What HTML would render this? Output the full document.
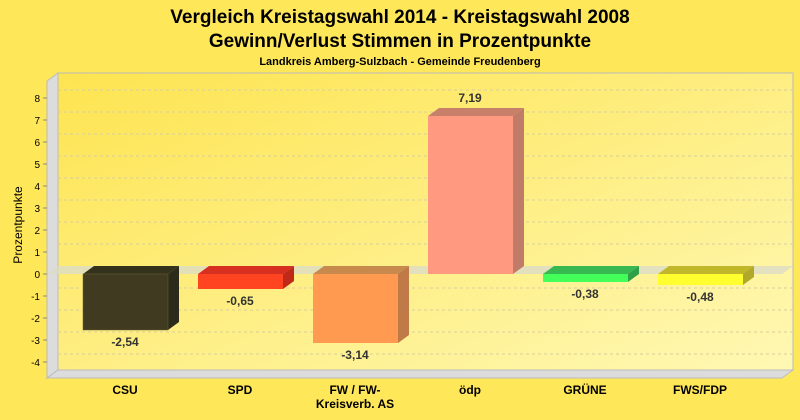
<!DOCTYPE html>
<html><head><meta charset="utf-8"><style>
html,body{margin:0;padding:0;background:#FFE75A;}
svg{display:block;font-family:"Liberation Sans",sans-serif;}
</style></head><body>
<svg width="800" height="420" viewBox="0 0 800 420">
<defs>
<linearGradient id="bg" x1="0" y1="0" x2="1" y2="1">
<stop offset="0" stop-color="#FDE450"/><stop offset="1" stop-color="#FFF8B4"/>
</linearGradient>
</defs>
<rect width="800" height="420" fill="#FFE75A"/>
<text x="400" y="23" font-size="19" font-weight="bold" text-anchor="middle" fill="#000">Vergleich Kreistagswahl 2014 - Kreistagswahl 2008</text>
<text x="400" y="47" font-size="19" font-weight="bold" text-anchor="middle" fill="#000">Gewinn/Verlust Stimmen in Prozentpunkte</text>
<text x="400" y="65" font-size="11" font-weight="bold" text-anchor="middle" fill="#000">Landkreis Amberg-Sulzbach - Gemeinde Freudenberg</text>
<!-- back plane -->
<rect x="58" y="73" width="735" height="297" fill="url(#bg)" stroke="#bbb" stroke-width="1"/>
<!-- left wall -->
<polygon points="47,81 58,73 58,370 47,378" fill="#DCDCDC" stroke="#bbb" stroke-width="1"/>
<!-- floor -->
<polygon points="47,378 58,370 793,370 782,378" fill="#DCDCDC" stroke="#bbb" stroke-width="1"/>
<g stroke="#d8cf9a" stroke-dasharray="3,3" stroke-width="1">
<line x1="58" y1="90" x2="793" y2="90"/><line x1="58" y1="112" x2="793" y2="112"/>
<line x1="58" y1="134" x2="793" y2="134"/><line x1="58" y1="156" x2="793" y2="156"/>
<line x1="58" y1="178" x2="793" y2="178"/><line x1="58" y1="200" x2="793" y2="200"/>
<line x1="58" y1="222" x2="793" y2="222"/><line x1="58" y1="244" x2="793" y2="244"/>
<line x1="58" y1="288" x2="793" y2="288"/><line x1="58" y1="310" x2="793" y2="310"/>
<line x1="58" y1="332" x2="793" y2="332"/><line x1="58" y1="354" x2="793" y2="354"/>
</g>
<!-- zero band -->
<polygon points="47,274 58,266 793,266 782,274" fill="#DCDCC8" opacity="0.8"/>
<!-- y axis ticks -->
<g font-size="10" text-anchor="end" fill="#000">
<text x="40" y="102">8</text><text x="40" y="124">7</text><text x="40" y="146">6</text>
<text x="40" y="168">5</text><text x="40" y="190">4</text><text x="40" y="212">3</text>
<text x="40" y="234">2</text><text x="40" y="256">1</text><text x="40" y="278">0</text>
<text x="40" y="300">-1</text><text x="40" y="322">-2</text><text x="40" y="344">-3</text>
<text x="40" y="366">-4</text>
</g>
<g stroke="#888"><line x1="43" y1="98" x2="47" y2="98"/><line x1="43" y1="120" x2="47" y2="120"/><line x1="43" y1="142" x2="47" y2="142"/><line x1="43" y1="164" x2="47" y2="164"/><line x1="43" y1="186" x2="47" y2="186"/><line x1="43" y1="208" x2="47" y2="208"/><line x1="43" y1="230" x2="47" y2="230"/><line x1="43" y1="252" x2="47" y2="252"/><line x1="43" y1="274" x2="47" y2="274"/><line x1="43" y1="296" x2="47" y2="296"/><line x1="43" y1="318" x2="47" y2="318"/><line x1="43" y1="340" x2="47" y2="340"/><line x1="43" y1="362" x2="47" y2="362"/></g>
<text transform="translate(22,225) rotate(-90)" font-size="12" text-anchor="middle">Prozentpunkte</text>
<!-- bars: front x, width 85, top, bottom -->
<!-- CSU -->
<polygon points="83,274 94,266 179,266 168,274" fill="#35321c"/>
<polygon points="168,274 179,266 179,322 168,330" fill="#2c2a18"/>
<rect x="83" y="274" width="85" height="56" fill="#403a20" stroke="#6a6230" stroke-width="0.5"/>
<!-- SPD -->
<polygon points="198,274 209,266 294,266 283,274" fill="#d83020"/>
<polygon points="283,274 294,266 294,281 283,289" fill="#c02818"/>
<rect x="198" y="274" width="85" height="15" fill="#FF4422"/>
<!-- FW -->
<polygon points="313,274 324,266 409,266 398,274" fill="#c88a4c"/>
<polygon points="398,274 409,266 409,335 398,343" fill="#c07a48"/>
<rect x="313" y="274" width="85" height="69" fill="#FF9A50"/>
<!-- ödp -->
<polygon points="428,116 439,108 524,108 513,116" fill="#c8806a"/>
<polygon points="513,116 524,108 524,266 513,274" fill="#c07c68"/>
<rect x="428" y="116" width="85" height="158" fill="#FF9A80"/>
<!-- GRÜNE -->
<polygon points="543,274 554,266 639,266 628,274" fill="#38b850"/>
<polygon points="628,274 639,266 639,274 628,282" fill="#30a048"/>
<rect x="543" y="274" width="85" height="8" fill="#44FF5A"/>
<!-- FWS -->
<polygon points="658,274 669,266 754,266 743,274" fill="#c0b82a"/>
<polygon points="743,274 754,266 754,277 743,285" fill="#b0a828"/>
<rect x="658" y="274" width="85" height="11" fill="#FFFF30"/>
<!-- value labels -->
<g font-size="12" font-weight="bold" text-anchor="middle" fill="#333">
<text x="125" y="346">-2,54</text><text x="240" y="305">-0,65</text>
<text x="355" y="359">-3,14</text><text x="470" y="102">7,19</text>
<text x="585" y="298">-0,38</text><text x="700" y="301">-0,48</text>
</g>
<g font-size="12" font-weight="bold" text-anchor="middle" fill="#000">
<text x="125" y="394">CSU</text><text x="240" y="394">SPD</text>
<text x="355" y="394">FW / FW-</text><text x="470" y="394">ödp</text>
<text x="585" y="394">GRÜNE</text><text x="700" y="394">FWS/FDP</text>
<text x="355" y="408">Kreisverb. AS</text>
</g>
</svg>
</body></html>
